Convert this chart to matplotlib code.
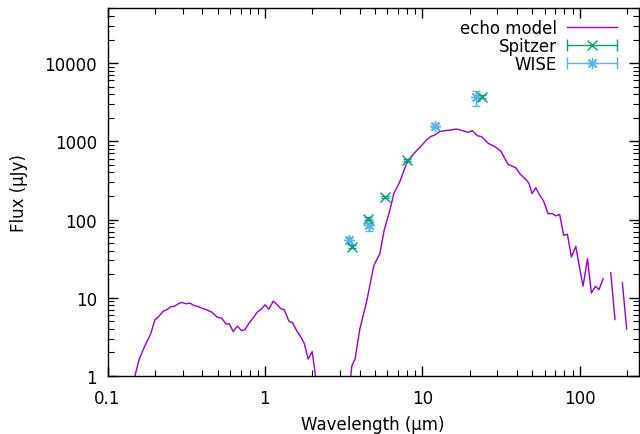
import numpy as np
import matplotlib
matplotlib.use('Agg')
import matplotlib.pyplot as plt
from matplotlib.lines import Line2D
from matplotlib.legend_handler import HandlerLine2D
from matplotlib.ticker import FixedLocator, FuncFormatter, LogLocator, NullFormatter

# echo model curve (NaN = gap in the model)
model_wl = [0.14, 0.159, 0.173, 0.188, 0.200, 0.210, 0.226, 0.238, 0.252, 0.2645,
            0.286, 0.300, 0.315, 0.334, 0.354, 0.377, 0.402, 0.427, 0.459, 0.498,
            0.531, 0.565, 0.594, 0.629, 0.667, 0.711, 0.747, 0.792, 0.843, 0.894,
            0.953, 1.0, 1.06, 1.129, 1.197, 1.264, 1.326, 1.42, 1.50, 1.59,
            1.693, 1.776, 1.883, 1.996, 2.2, 2.7, 3.1, 3.44,
            3.57, 3.74, 3.855, 4.01, 4.42, 4.92, 5.37, 5.72, 6.22, 6.59,
            7.19, 7.94, 8.74, 9.74, 10.63, 11.27, 12.0, 12.9, 13.9, 15.1,
            16.5, 18.0, 19.5, 20.8, 22.3, 23.8, 26.2, 28.9, 31.5, 33.4,
            35.1, 39.2, 42.0, 45.9, 47.6, 49.8, 52.6, 55.7, 59.0, 62.9,
            67.1, 70.4, 74.6, 79.1, 83.5, 88.5, 94.4, 100.0, 105.0, 112.0,
            118.6, 125.8, 132.6, 140.6, 150.0, 157.4, 167.5, 178.0, 186.6, 198.7]
model_flux = [0.6, 1.65, 2.45, 3.45, 5.22, 5.66, 6.75, 7.02, 7.73, 7.73,
              8.55, 8.71, 8.38, 8.55, 7.97, 7.73, 7.29, 7.02, 6.56, 5.66,
              5.49, 4.64, 4.64, 3.70, 4.34, 3.81, 3.89, 4.74, 5.54, 6.56,
              7.23, 8.13, 7.16, 9.07, 8.13, 7.23, 7.08, 5.03, 4.78, 3.81,
              3.13, 2.62, 1.65, 2.05, 0.5, 0.3, 0.4, 0.68,
              1.355, 1.65, 2.45, 4.0, 8.81, 25.9, 36.6, 72.9, 131.6, 215,
              304, 522, 681, 855, 1039, 1148, 1205, 1331, 1371, 1396,
              1438, 1371, 1304, 1371, 1183, 1148, 943, 855, 751, 606,
              507, 460, 378, 319, 289, 215, 255, 205, 172, 119,
              119, 111.5, 116, 62.9, 64.8, 33.2, 45.5, 23.5, 14.1, 31.6,
              11.5, 14.0, 12.7, 17.5, np.nan, 20.9, 5.27, np.nan, 15.6, 4.0]

# Spitzer photometry
spitzer_wl = [3.6, 4.5, 5.8, 8.0, 24.0]
spitzer_flux = [44.7, 103, 195, 576, 3740]
spitzer_err = [2, 4, 8, 20, 150]

# WISE photometry
wise_wl = [3.4, 4.6, 12.0, 22.0]
wise_flux = [54.3, 86.3, 1589, 3665]
wise_err = [6, 15, 80, 800]

purple = '#9400d3'
green = '#009e73'
blue = '#56b4e9'
fs = 12

fig = plt.figure(figsize=(6.4, 4.35), dpi=100)
ax = fig.add_axes([0.168, 0.1333, 0.830, 0.845])

ax.plot(model_wl, model_flux, color=purple, lw=1.0)
ax.errorbar(spitzer_wl, spitzer_flux, yerr=spitzer_err, fmt='x', color=green,
            ms=7, mew=1.0, elinewidth=1.0, capsize=3)
ax.errorbar(wise_wl, wise_flux, yerr=wise_err, fmt='none', ecolor=blue,
            elinewidth=1.0, capsize=3)
ax.plot(wise_wl, wise_flux, ls='none', marker=(8, 2, 0), color=blue, ms=8, mew=1.0)

ax.set_xscale('log')
ax.set_yscale('log')
ax.set_xlim(0.1, 237)
ax.set_ylim(1, 50000)

ax.xaxis.set_major_locator(FixedLocator([0.1, 1, 10, 100]))
ax.yaxis.set_major_locator(FixedLocator([1, 10, 100, 1000, 10000]))
ax.xaxis.set_minor_locator(LogLocator(base=10, subs=np.arange(2, 10)))
ax.yaxis.set_minor_locator(LogLocator(base=10, subs=np.arange(2, 10)))
fmt = FuncFormatter(lambda v, p: '%g' % v)
ax.xaxis.set_major_formatter(fmt)
ax.yaxis.set_major_formatter(fmt)
ax.xaxis.set_minor_formatter(NullFormatter())
ax.yaxis.set_minor_formatter(NullFormatter())
ax.tick_params(which='both', direction='in', top=True, right=True, labelsize=fs)
ax.tick_params(which='major', length=7, width=1)
ax.tick_params(which='minor', length=4, width=0.8)
ax.tick_params(axis='x', pad=9)
ax.tick_params(axis='y', pad=7.5)
for s in ax.spines.values():
    s.set_linewidth(1.0)

ax.set_xlabel('Wavelength (μm)', fontsize=fs, labelpad=6)
ax.set_ylabel('Flux (μJy)', fontsize=fs, labelpad=12)

# gnuplot-style legend: text first, horizontal sample with caps
h_model = Line2D([], [], color=purple, lw=1.0)
cap_s = Line2D([], [], color=green, lw=1.0, marker='|', ms=8, mew=1.0)
mk_s = Line2D([], [], color=green, ls='none', marker='x', ms=7, mew=1.0)
cap_w = Line2D([], [], color=blue, lw=1.0, marker='|', ms=8, mew=1.0)
mk_w = Line2D([], [], color=blue, ls='none', marker=(8, 2, 0), ms=8, mew=1.0)
hmap = {cap_s: HandlerLine2D(numpoints=2, marker_pad=0.0),
        cap_w: HandlerLine2D(numpoints=2, marker_pad=0.0),
        mk_s: HandlerLine2D(numpoints=1),
        mk_w: HandlerLine2D(numpoints=1)}
leg = ax.legend([h_model, (cap_s, mk_s), (cap_w, mk_w)],
                ['echo model', 'Spitzer', 'WISE'],
                handler_map=hmap, loc='upper right', frameon=False,
                markerfirst=False, fontsize=fs, handlelength=3.0,
                handletextpad=0.65, labelspacing=0.0,
                bbox_to_anchor=(0.988, 1.012))

fig.savefig('out.png', dpi=100)
